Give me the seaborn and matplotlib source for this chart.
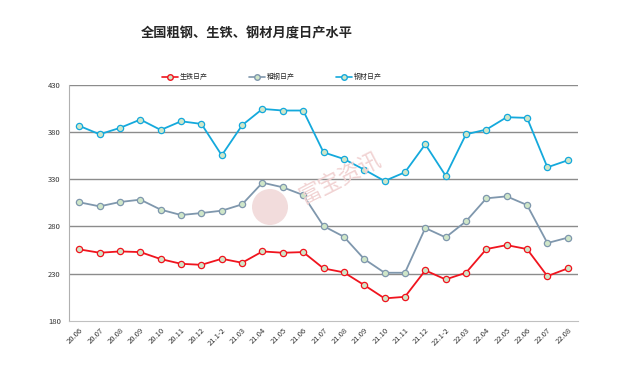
import numpy as np
import pandas as pd
import matplotlib
matplotlib.use('Agg')
import matplotlib.pyplot as plt
import seaborn as sns
from matplotlib.patches import Circle

months = ['20.06', '20.07', '20.08', '20.09', '20.10', '20.11', '20.12', '21.1-2',
          '21.03', '21.04', '21.05', '21.06', '21.07', '21.08', '21.09', '21.10',
          '21.11', '21.12', '22.1-2', '22.03', '22.04', '22.05', '22.06', '22.07', '22.08']

pig_iron = [255.6, 252.0, 253.4, 252.7, 245.3, 240.3, 239.2, 245.6, 241.4, 253.4, 252.0, 252.7,
            235.4, 231.2, 217.7, 203.6, 205.3, 233.3, 223.7, 230.8, 255.9, 260.1, 255.9, 227.2, 235.4]
crude_steel = [305.5, 301.2, 305.8, 308.3, 297.7, 292.0, 294.1, 296.6, 303.3, 326.3, 321.4, 313.2,
               280.3, 269.0, 245.3, 230.8, 230.8, 278.2, 268.3, 285.3, 309.7, 311.8, 302.6, 262.3, 268.0]
steel_products = [386.5, 377.6, 384.4, 393.2, 382.2, 391.4, 388.6, 355.3, 387.2, 404.5, 402.8, 402.8,
                  358.5, 351.4, 340.1, 328.1, 337.3, 367.0, 333.7, 377.6, 382.6, 395.7, 395.0, 342.6, 350.0]

series_names = ['生铁日产', '粗钢日产', '钢材日产']
colors = ['#f0141e', '#7f97ad', '#14a9dc']

sns.set_style('white')
plt.rcParams['font.family'] = ['Noto Sans CJK SC', 'DejaVu Sans']

frames = []
for name, vals in zip(series_names, [pig_iron, crude_steel, steel_products]):
    frames.append(pd.DataFrame({'x': np.arange(len(months)), 'v': vals, 's': name}))
df = pd.concat(frames, ignore_index=True)

fig = plt.figure(figsize=(6.4, 3.69), dpi=100)
ax = fig.add_axes([0.108, 0.131, 0.795, 0.639])

# watermark (logo + text)
fig.patches.append(Circle((2.70, (369 - 207) / 100), 0.18, transform=fig.dpi_scale_trans,
                          facecolor='#f2dcdc', edgecolor='none', zorder=0))
fig.text(340 / 640, 1 - 178 / 369, '富宝资讯', fontsize=16, color='#f1d3d3',
         rotation=27, ha='center', va='center', zorder=0)

for y in [230, 280, 330, 380, 430]:
    ax.axhline(y, color='#8c8c8c', lw=1.0, zorder=1)

sns.lineplot(data=df, x='x', y='v', hue='s', palette=colors, ax=ax, marker='o',
             markersize=4.5, markerfacecolor='#cfe6c8', markeredgewidth=0.9,
             lw=1.3, zorder=3, legend=False)
for line, c in zip(ax.get_lines()[-3:], colors):
    line.set_markeredgecolor(c)

ax.set_xlim(-0.5, len(months) - 0.5)
ax.set_ylim(180, 430)
ax.set_yticks([180, 230, 280, 330, 380, 430])
ax.set_xticks(np.arange(len(months)))
ax.set_xticklabels(months, rotation=45, ha='right', rotation_mode='anchor', fontsize=5.5, color='#333333')
ax.set_xticks(np.arange(len(months) + 1) - 0.5, minor=True)
ax.tick_params(axis='x', which='major', length=0, pad=4)
ax.tick_params(axis='x', which='minor', length=3, color='#b0b0b0', width=0.8)
ax.tick_params(axis='y', length=0, labelsize=5.5, labelcolor='#333333', pad=6)
ax.set_xlabel('')
ax.set_ylabel('')
ax.patch.set_alpha(0)
for s in ['top', 'right']:
    ax.spines[s].set_visible(False)
ax.spines['left'].set_color('#b0b0b0')
ax.spines['bottom'].set_color('#c0c0c0')

handles = [plt.Line2D([], [], color=c, marker='o', markersize=4, markerfacecolor='#cfe6c8',
                      markeredgecolor=c, lw=1.2) for c in colors]
fig.legend(handles, series_names, loc='center', bbox_to_anchor=(272 / 640, 1 - 77 / 369), ncol=3,
           frameon=False, fontsize=5, handlelength=2.2, columnspacing=6, handletextpad=0.3)

fig.text(247 / 640, 1 - 33 / 369, '全国粗钢、生铁、钢材月度日产水平', fontsize=9.5,
         fontweight='bold', ha='center', va='center')

fig.savefig('out.png', dpi=100)
